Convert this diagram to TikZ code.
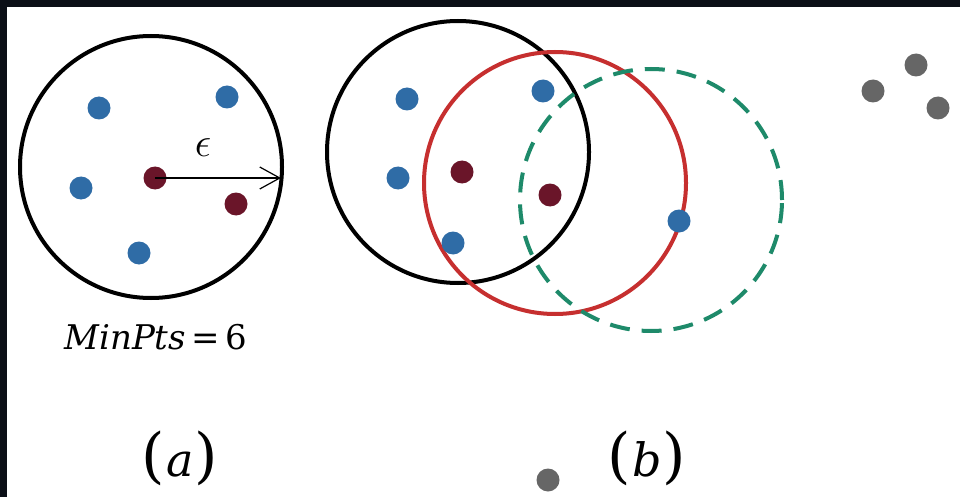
\documentclass[tikz,border=0pt]{standalone}
\usepackage{fontspec}
\setmainfont{DejaVu Serif}
\usetikzlibrary{arrows.meta}
\definecolor{frame}{HTML}{0B0F17}
\definecolor{ptblue}{HTML}{2F6CA6}
\definecolor{ptred}{HTML}{6A1529}
\definecolor{ringred}{HTML}{C62F2F}
\definecolor{ringgreen}{HTML}{1E8A6A}
\definecolor{ptgray}{HTML}{666666}
\newcommand{\bigpar}[1]{{\fontsize{60}{70}\selectfont #1}}
\tikzset{
  ring/.style={circle, draw, line width=4pt, minimum size=262pt, inner sep=0pt, outer sep=0pt},
  dot/.style={circle, fill=#1, minimum size=23pt, inner sep=0pt, outer sep=0pt},
  lbl/.style={inner sep=0pt, font=\fontsize{46}{56}\selectfont}
}
\begin{document}
\begin{tikzpicture}[x=1pt,y=-1pt]
\useasboundingbox (0,0) rectangle (960,497);
\fill[frame] (0,0) rectangle (960,497);
\fill[white] (7,7) rectangle (960,497);
% (a)
\node[ring] (ca) at (151,167) {};
\node[dot=ptblue] (a1) at (99,108) {};
\node[dot=ptblue] (a2) at (227,97) {};
\node[dot=ptblue] (a3) at (81,188) {};
\node[dot=ptblue] (a4) at (139,253) {};
\node[dot=ptred] (a5) at (155,178) {};
\node[dot=ptred] (a6) at (236,204) {};
\coordinate (ae) at (281,178);
\draw[line width=1.2pt, -{Straight Barb[length=20pt,width=22pt]}] (a5.center) -- (ae);
\node[inner sep=0pt, scale=2, font=\huge] (eps) at (203,148) {$\epsilon$};
\node[inner sep=0pt, font=\fontsize{34}{40}\selectfont] (minpts) at (156,337) {\textit{MinPts}\,=\,6};
\node[lbl] (la) at (180,458) {\bigpar{(}\kern1pt\textit{a}\kern1pt\bigpar{)}};
% (b)
\node[ring] (cb) at (458,152) {};
\node[ring, draw=ringred] (cr) at (555,183) {};
\node[ring, draw=ringgreen, dash pattern=on 20pt off 12pt] (cg) at (651,200) {};
\node[dot=ptblue] (b1) at (407,99) {};
\node[dot=ptblue] (b2) at (543,91) {};
\node[dot=ptblue] (b3) at (398,178) {};
\node[dot=ptblue] (b4) at (453,243) {};
\node[dot=ptblue] (b5) at (679,221) {};
\node[dot=ptred] (b6) at (462,172) {};
\node[dot=ptred] (b7) at (550,195) {};
\node[dot=ptgray] (g1) at (873,91) {};
\node[dot=ptgray] (g2) at (916,65) {};
\node[dot=ptgray] (g3) at (938,108) {};
\node[dot=ptgray] (g4) at (548,480) {};
\node[lbl] (lb) at (647,458) {\bigpar{(}\kern1pt\textit{b}\kern1pt\bigpar{)}};
\end{tikzpicture}
\end{document}
